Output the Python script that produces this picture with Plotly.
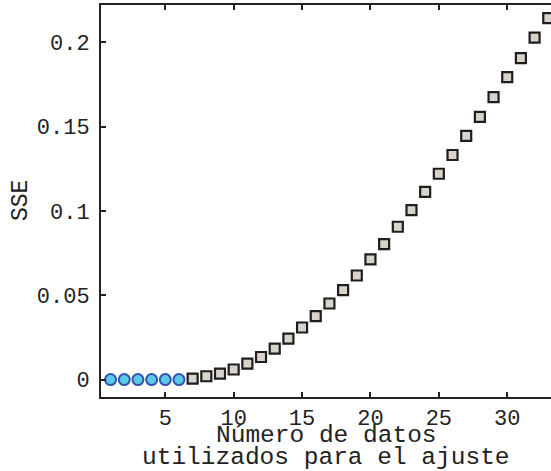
import plotly.graph_objects as go

# Data
x_circles = [1, 2, 3, 4, 5, 6]
sse_circles = [0, 0, 0, 0, 0, 0]
x_squares = [7, 8, 9, 10, 11, 12, 13, 14, 15, 16, 17, 18, 19, 20,
             21, 22, 23, 24, 25, 26, 27, 28, 29, 30, 31, 32, 33]
sse_squares = [0.0006, 0.0020, 0.0036, 0.0060, 0.0095, 0.0134, 0.0184,
               0.0243, 0.0309, 0.0376, 0.0451, 0.0530, 0.0617, 0.0713,
               0.0803, 0.0906, 0.1005, 0.1112, 0.1220, 0.1331, 0.1444,
               0.1557, 0.1674, 0.1792, 0.1905, 0.2027, 0.2142]
x_ticks = [5, 10, 15, 20, 25, 30]
y_ticks = [0, 0.05, 0.1, 0.15, 0.2]
y_tick_text = ["0", "0.05", "0.1", "0.15", "0.2"]
x_title_lines = ["Número de datos", "utilizados para el ajuste"]
y_title = "SSE"

FONT = "Liberation Mono, Courier New, monospace"
AX = "#222222"

fig = go.Figure()
fig.add_trace(go.Scatter(
    x=x_squares, y=sse_squares, mode="markers",
    marker=dict(symbol="square", size=10, color="#d8d4cb",
                line=dict(color="#1e1e1e", width=2.2)),
    showlegend=False))
fig.add_trace(go.Scatter(
    x=x_circles, y=sse_circles, mode="markers",
    marker=dict(symbol="circle", size=11, color="#5cc8ea",
                line=dict(color="#3356b0", width=2)),
    showlegend=False))

fig.update_layout(
    width=551, height=471,
    margin=dict(l=101, r=0, t=5, b=74, autoexpand=False),
    plot_bgcolor="white", paper_bgcolor="white",
    font=dict(family=FONT, size=22, color="#222222"),
    xaxis=dict(range=[0.3, 33.2], tickvals=x_ticks, ticks="inside",
               ticklen=5, tickwidth=1.5, tickcolor=AX, automargin=False,
               showline=True, linecolor=AX, linewidth=2, mirror="ticks",
               showgrid=False, zeroline=False,
               tickfont=dict(family=FONT, size=22)),
    yaxis=dict(range=[-0.0103, 0.222], tickvals=y_ticks, ticktext=y_tick_text,
               ticks="inside", ticklen=5, tickwidth=1.5, tickcolor=AX,
               automargin=False, ticklabelstandoff=5,
               showline=True, linecolor=AX, linewidth=2, mirror=False,
               showgrid=False, zeroline=False,
               tickfont=dict(family=FONT, size=22)),
)

fig.add_annotation(text=x_title_lines[0], xref="paper", yref="paper",
                   x=0.5, y=0, yanchor="middle", yshift=-38, showarrow=False,
                   font=dict(family=FONT, size=24.5, color="#222222"))
fig.add_annotation(text=x_title_lines[1], xref="paper", yref="paper",
                   x=0.5, y=0, yanchor="middle", yshift=-60, showarrow=False,
                   font=dict(family=FONT, size=24.5, color="#222222"))
fig.add_annotation(text=y_title, xref="paper", yref="paper",
                   x=0, y=0.5, xanchor="center", xshift=-80, textangle=-90,
                   showarrow=False,
                   font=dict(family=FONT, size=23, color="#222222"))

fig.write_html("out.html", config={"displayModeBar": False},
               post_script="document.body.style.margin='0';document.body.style.overflow='hidden';")
